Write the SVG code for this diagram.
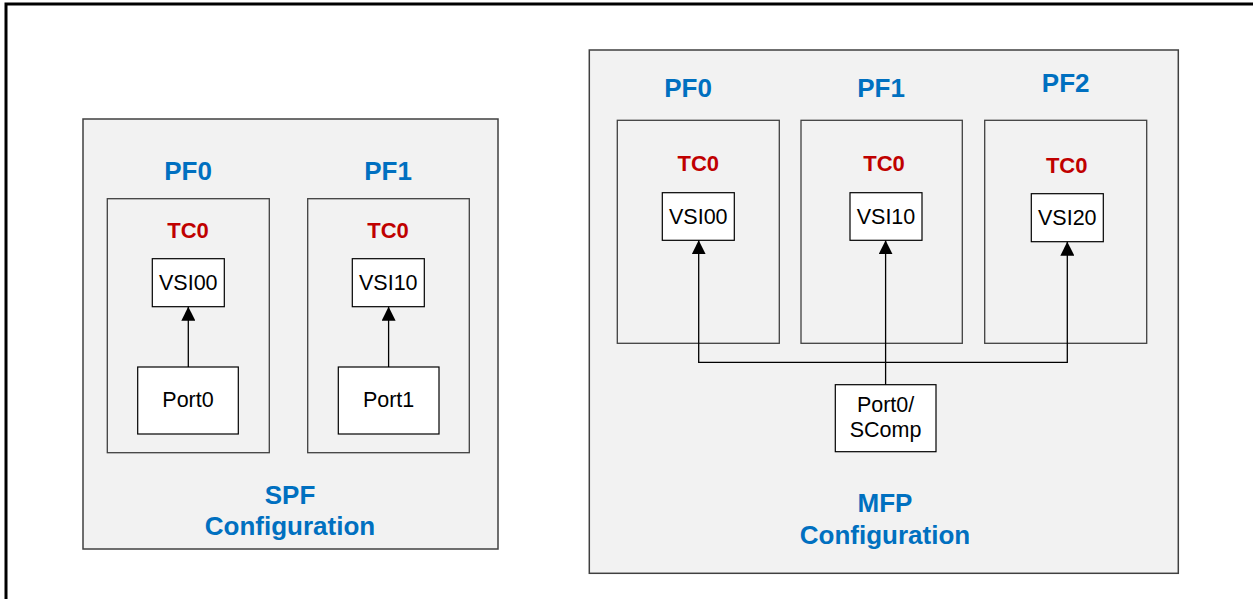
<svg xmlns="http://www.w3.org/2000/svg" width="1253" height="599" viewBox="0 0 1253 599">
<style>
.frame{fill:none;stroke:#000;stroke-width:3}
.cfg{fill:#f2f2f2;stroke:#404040;stroke-width:1.5}
.pf{fill:none;stroke:#404040;stroke-width:1.3}
.box{fill:#fff;stroke:#000;stroke-width:1.2}
.pfl{font-family:"Liberation Sans",Arial,sans-serif;font-weight:bold;font-size:26px;fill:#0070C0;text-anchor:middle}
.tc{font-family:"Liberation Sans",Arial,sans-serif;font-weight:bold;font-size:22px;fill:#C00000;text-anchor:middle}
.lbl{font-family:"Liberation Sans",Arial,sans-serif;font-size:21.5px;fill:#000;text-anchor:middle}
.con{fill:none;stroke:#000;stroke-width:1.3}
</style>
<defs>
<marker id="arr" markerUnits="userSpaceOnUse" markerWidth="14" markerHeight="14" viewBox="0 0 14 14" refX="14" refY="7" orient="auto">
<path d="M0,0 L14,7 L0,14 z" fill="#000"/>
</marker>
</defs>
<rect class="frame" x="6" y="4" width="1260" height="610"/>
<g id="spf">
<rect class="cfg" x="83" y="119" width="415" height="430"/>
<text class="pfl" x="290" y="504">SPF</text>
<text class="pfl" x="290" y="535">Configuration</text>
</g>
<g id="spf-pf0">
<rect class="pf" x="107.3" y="198.7" width="162" height="254"/>
<text class="pfl" x="188" y="180">PF0</text>
<text class="tc" x="188" y="237.7">TC0</text>
</g>
<g id="spf-pf1">
<rect class="pf" x="307.7" y="198.7" width="161.6" height="254"/>
<text class="pfl" x="388" y="180">PF1</text>
<text class="tc" x="388" y="237.7">TC0</text>
</g>
<g id="spf-vsi00">
<rect class="box" x="152.3" y="258.7" width="72" height="48"/>
<text class="lbl" x="188.3" y="289.5">VSI00</text>
</g>
<g id="spf-vsi10">
<rect class="box" x="352.3" y="258.7" width="72" height="48"/>
<text class="lbl" x="388.3" y="289.5">VSI10</text>
</g>
<g id="spf-port0">
<rect class="box" x="137.7" y="367" width="100.6" height="67"/>
<text class="lbl" x="188" y="407">Port0</text>
</g>
<g id="spf-port1">
<rect class="box" x="338.3" y="367" width="100.7" height="67"/>
<text class="lbl" x="388.6" y="407">Port1</text>
</g>
<g id="mfp">
<rect class="cfg" x="589.3" y="50" width="589" height="523.3"/>
<text class="pfl" x="885" y="512.3">MFP</text>
<text class="pfl" x="885" y="544.3">Configuration</text>
</g>
<g id="mfp-pf0">
<rect class="pf" x="617.3" y="120.3" width="162" height="223"/>
<text class="pfl" x="688" y="97.3">PF0</text>
<text class="tc" x="698.3" y="170.7">TC0</text>
</g>
<g id="mfp-pf1">
<rect class="pf" x="801" y="120.3" width="161.3" height="223"/>
<text class="pfl" x="881" y="97.3">PF1</text>
<text class="tc" x="884" y="170.7">TC0</text>
</g>
<g id="mfp-pf2">
<rect class="pf" x="984.7" y="120.3" width="162" height="223"/>
<text class="pfl" x="1065.7" y="91.7">PF2</text>
<text class="tc" x="1066.7" y="173.3">TC0</text>
</g>
<g id="mfp-vsi00">
<rect class="box" x="662.3" y="192.7" width="72" height="47.6"/>
<text class="lbl" x="698.3" y="223.8">VSI00</text>
</g>
<g id="mfp-vsi10">
<rect class="box" x="850" y="192.7" width="72" height="47.6"/>
<text class="lbl" x="886" y="223.8">VSI10</text>
</g>
<g id="mfp-vsi20">
<rect class="box" x="1031.3" y="193.7" width="72" height="48"/>
<text class="lbl" x="1067.3" y="224.8">VSI20</text>
</g>
<g id="mfp-port0">
<rect class="box" x="835.3" y="384.7" width="100.7" height="67"/>
<text class="lbl" x="885.6" y="412">Port0/</text>
<text class="lbl" x="885.6" y="436.5">SComp</text>
</g>
<g id="connectors">
<line class="con" x1="188.3" y1="367" x2="188.3" y2="306.7" marker-end="url(#arr)"/>
<line class="con" x1="388.6" y1="367" x2="388.6" y2="306.7" marker-end="url(#arr)"/>
<line class="con" x1="885.6" y1="384.7" x2="885.6" y2="362.3"/>
<polyline class="con" points="885.6,362.3 698.7,362.3 698.7,240.3" marker-end="url(#arr)"/>
<line class="con" x1="885.6" y1="362.3" x2="885.6" y2="240.3" stroke="#555" marker-end="url(#arr)"/>
<polyline class="con" points="885.6,362.3 1067.3,362.3 1067.3,241.7" marker-end="url(#arr)"/>
</g>
</svg>
